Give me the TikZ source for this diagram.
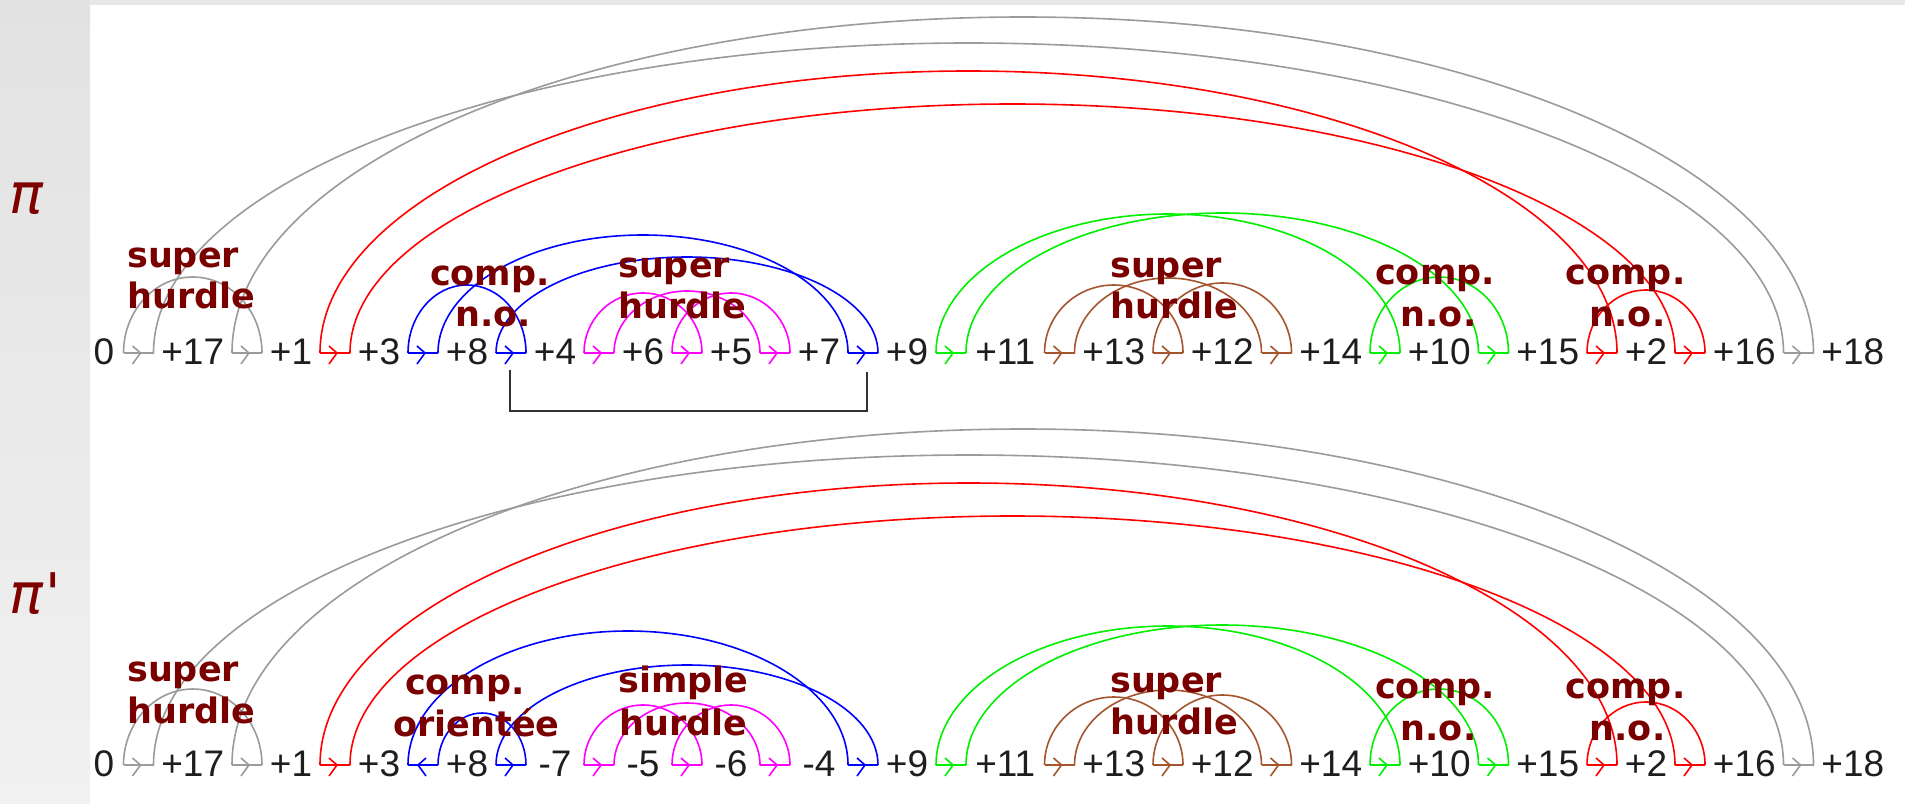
\documentclass[tikz,border=0pt]{standalone}
\usepackage{fontspec}
\setmainfont{Liberation Sans}
\newfontfamily\numfont{Liberation Sans}
\newfontfamily\labfont{DejaVu Sans}
\usetikzlibrary{calc}
\definecolor{arcgray}{RGB}{155,155,155}
\definecolor{arcred}{RGB}{255,0,0}
\definecolor{arcblue}{RGB}{0,0,255}
\definecolor{arcmag}{RGB}{255,0,255}
\definecolor{arcgreen}{RGB}{0,240,0}
\definecolor{arcbrown}{RGB}{165,85,45}
\definecolor{labred}{RGB}{122,0,0}
\definecolor{pired}{RGB}{128,0,0}
\definecolor{numcol}{RGB}{30,30,30}
\definecolor{brcol}{RGB}{50,50,50}
\definecolor{stripA}{RGB}{226,226,226}
\definecolor{stripB}{RGB}{241,241,241}
\definecolor{topstrip}{RGB}{232,232,232}
\newcommand\harc[4]{\draw[arcline,#4] let \p1=(#1),\p2=(#2) in (#1) arc[start angle=180,end angle=0,x radius={0.5*(\x2-\x1)},y radius=#3pt];}
\begin{document}
\begin{tikzpicture}[x=1pt,y=1pt,
  arcline/.style={line width=1.6pt},
  num/.style={anchor=base,inner sep=0pt,text=numcol,font=\numfont\fontsize{37}{40}\selectfont},
  lab/.style={inner sep=0pt,text=labred,font=\labfont\bfseries\fontsize{35}{40}\selectfont},
  pilab/.style={inner sep=0pt,text=pired,font=\labfont\itshape\fontsize{56}{60}\selectfont},
  primelab/.style={inner sep=0pt,text=pired,font=\labfont\fontsize{56}{60}\selectfont},
  bracket/.style={line width=2pt,draw=brcol}
]
\useasboundingbox (0,0) rectangle (1905,-803);
\fill[white] (0,0) rectangle (1905,-803);
\shade[top color=stripA,bottom color=stripB] (0,0) rectangle (90,-803);
\fill[topstrip] (90,0) rectangle (1905,-5);

% gap coordinates
\foreach \rw/\yy in {a/353,b/765}{
  \foreach \c [count=\i from 0] in {138.5,247,335,423,511,599,687,775,863,951,1059.5,1168,1276.5,1385,1493.5,1602,1690,1798.5}{
    \coordinate (\rw L\i) at (\c-15,-\yy);
    \coordinate (\rw R\i) at (\c+15,-\yy);
    \coordinate (\rw C\i) at (\c,-\yy);
  }
}

% arcs common to both rows
\foreach \rw in {a,b}{
  \harc{\rw L0}{\rw R1}{76}{arcgray}
  \harc{\rw R0}{\rw L17}{310}{arcgray}
  \harc{\rw L1}{\rw R17}{336}{arcgray}
  \harc{\rw L2}{\rw R15}{282}{arcred}
  \harc{\rw R2}{\rw L16}{249}{arcred}
  \harc{\rw L15}{\rw R16}{63}{arcred}
  \harc{\rw L5}{\rw R6}{60}{arcmag}
  \harc{\rw R5}{\rw L7}{62}{arcmag}
  \harc{\rw L6}{\rw R7}{60}{arcmag}
  \harc{\rw L9}{\rw R13}{139}{arcgreen}
  \harc{\rw R9}{\rw L14}{140}{arcgreen}
  \harc{\rw L13}{\rw R14}{76}{arcgreen}
  \harc{\rw L10}{\rw R11}{68}{arcbrown}
  \harc{\rw R10}{\rw L12}{75}{arcbrown}
  \harc{\rw L11}{\rw R12}{70}{arcbrown}
}
% blue arcs of pi
\harc{aL3}{aR4}{68}{arcblue}
\harc{aR3}{aL8}{118}{arcblue}
\harc{aL4}{aR8}{96}{arcblue}
% blue arcs of pi'
\harc{bL3}{bL8}{134}{arcblue}
\harc{bR3}{bR4}{52}{arcblue}
\harc{bL4}{bR8}{100}{arcblue}

% gap bases and chevrons
\foreach \rw in {a,b}{
  \foreach \i/\col in {0/arcgray,1/arcgray,2/arcred,3/arcblue,4/arcblue,5/arcmag,6/arcmag,7/arcmag,8/arcblue,9/arcgreen,10/arcbrown,11/arcbrown,12/arcbrown,13/arcgreen,14/arcgreen,15/arcred,16/arcred,17/arcgray}{
    \draw[arcline,\col] (\rw L\i) -- (\rw R\i);
  }
}
\foreach \i/\col in {0/arcgray,1/arcgray,2/arcred,3/arcblue,4/arcblue,5/arcmag,6/arcmag,7/arcmag,8/arcblue,9/arcgreen,10/arcbrown,11/arcbrown,12/arcbrown,13/arcgreen,14/arcgreen,15/arcred,16/arcred,17/arcgray}{
  \draw[arcline,\col] ($(aC\i)+(-6,7)$) -- ($(aC\i)+(2,0)$) -- ($(aC\i)+(-6,-11)$);
}
\foreach \i/\col in {0/arcgray,1/arcgray,2/arcred,4/arcblue,5/arcmag,6/arcmag,7/arcmag,8/arcblue,9/arcgreen,10/arcbrown,11/arcbrown,12/arcbrown,13/arcgreen,14/arcgreen,15/arcred,16/arcred,17/arcgray}{
  \draw[arcline,\col] ($(bC\i)+(-6,7)$) -- ($(bC\i)+(2,0)$) -- ($(bC\i)+(-6,-11)$);
}
\draw[arcline,arcblue] ($(bC3)+(3,7)$) -- ($(bC3)+(-5,0)$) -- ($(bC3)+(3,-11)$);

% numbers
\foreach \x/\t [count=\k from 0] in {104/0,192.75/+17,291/+1,379/+3,467/+8,555/+4,643/+6,731/+5,819/+7,907/+9,1005.25/+11,1113.75/+13,1222.25/+12,1330.75/+14,1439.25/+10,1547.75/+15,1646/+2,1744.25/+16,1852.75/+18}{
  \node[num] (na\k) at (\x,-364) {\t};
}
\foreach \x/\t [count=\k from 0] in {104/0,192.75/+17,291/+1,379/+3,467/+8,555/-7,643/-5,731/-6,819/-4,907/+9,1005.25/+11,1113.75/+13,1222.25/+12,1330.75/+14,1439.25/+10,1547.75/+15,1646/+2,1744.25/+16,1852.75/+18}{
  \node[num] (nb\k) at (\x,-776) {\t};
}

% bracket under the reversed segment
\coordinate (brL) at (510,-370);
\coordinate (brBL) at (510,-411);
\coordinate (brR) at (867,-372);
\draw[bracket] (brL) -- (brBL) -| (brR);

% labels of pi
\node[lab,anchor=base west] (la1) at (127,-267) {super};
\node[lab,anchor=base west] (la2) at (127,-308) {hurdle};
\node[lab,anchor=base] (la3) at (490,-285) {comp.};
\node[lab,anchor=base] (la4) at (493.5,-326) {n.o.};
\node[lab,anchor=base west] (la5) at (618,-277) {super};
\node[lab,anchor=base west] (la6) at (618,-318) {hurdle};
\node[lab,anchor=base west] (la7) at (1110,-277) {super};
\node[lab,anchor=base west] (la8) at (1110,-318) {hurdle};
\node[lab,anchor=base] (la9) at (1435,-284) {comp.};
\node[lab,anchor=base] (la10) at (1438.5,-326) {n.o.};
\node[lab,anchor=base] (la11) at (1625.5,-284) {comp.};
\node[lab,anchor=base] (la12) at (1627.5,-326) {n.o.};

% labels of pi'
\node[lab,anchor=base west] (lb1) at (127,-681) {super};
\node[lab,anchor=base west] (lb2) at (127,-723) {hurdle};
\node[lab,anchor=base] (lb3) at (465,-694) {comp.};
\node[lab,anchor=base] (lb4) at (476.5,-736) {orientée};
\node[lab,anchor=base west] (lb5) at (618,-692) {simple};
\node[lab,anchor=base west] (lb6) at (619,-735) {hurdle};
\node[lab,anchor=base west] (lb7) at (1110,-692) {super};
\node[lab,anchor=base west] (lb8) at (1110,-734) {hurdle};
\node[lab,anchor=base] (lb9) at (1435,-698) {comp.};
\node[lab,anchor=base] (lb10) at (1438.5,-740) {n.o.};
\node[lab,anchor=base] (lb11) at (1625.5,-698) {comp.};
\node[lab,anchor=base] (lb12) at (1627.5,-740) {n.o.};

% row names
\node[pilab,anchor=base west] (pi1) at (9,-213) {π};
\node[pilab,anchor=base west] (pi2) at (9,-613) {π};
\node[primelab,anchor=base west] (pr2) at (45,-613) {\symbol{39}};
\end{tikzpicture}
\end{document}
